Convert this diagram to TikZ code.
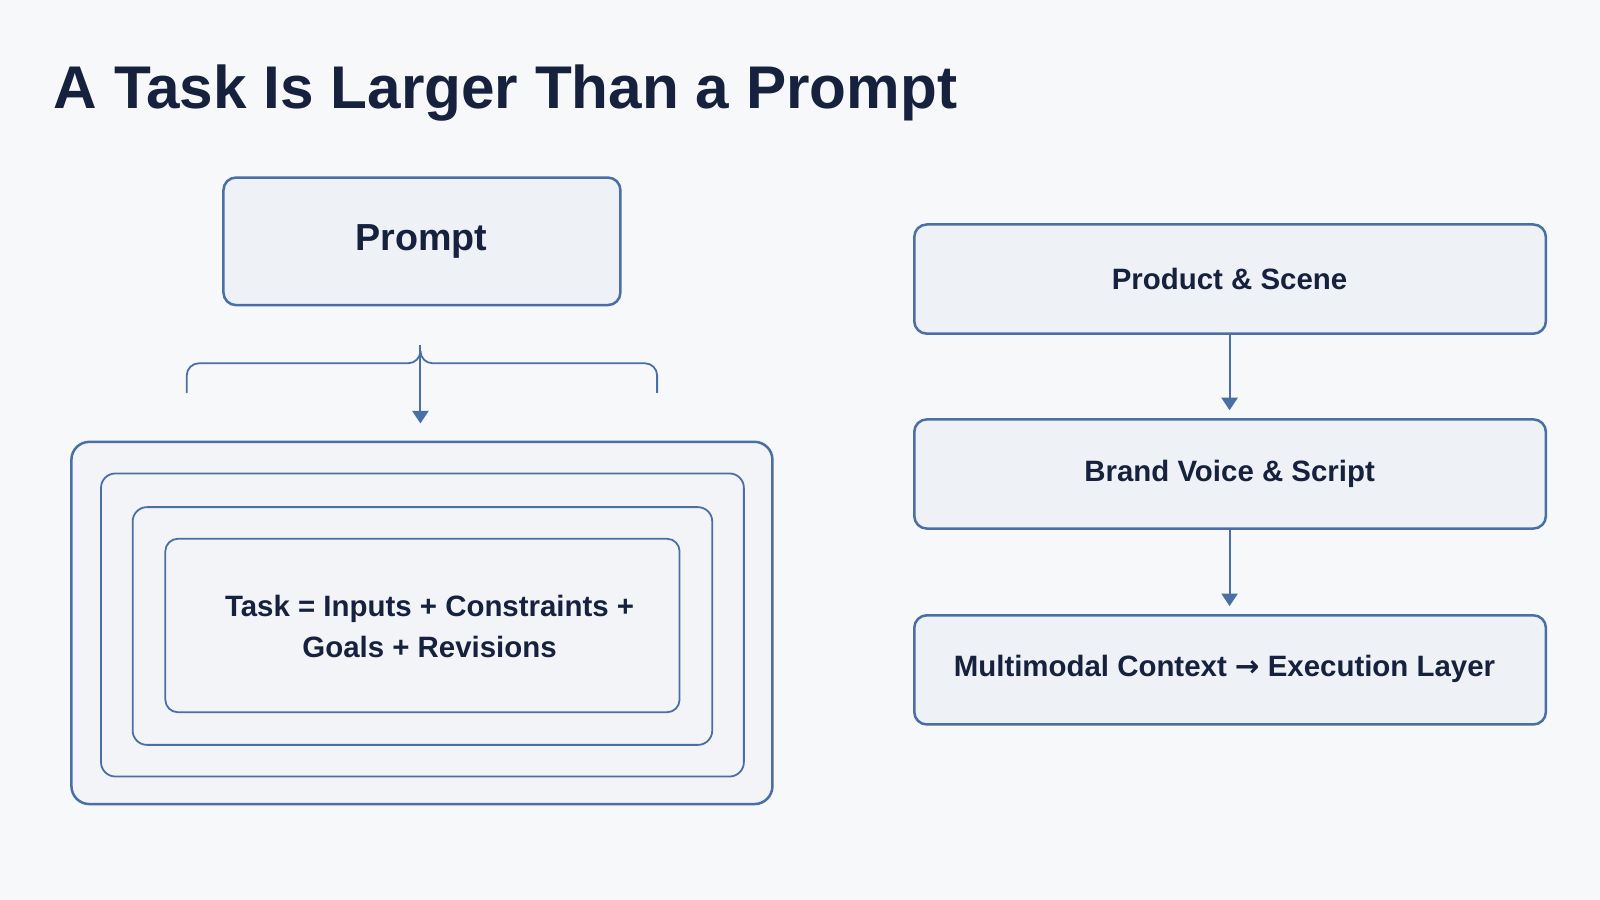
\documentclass[tikz,border=0pt]{standalone}
\usepackage{fontspec}
\setmainfont{Liberation Sans}
\usetikzlibrary{arrows.meta}
\definecolor{bg}{HTML}{F7F8FA}
\definecolor{navy}{HTML}{15213D}
\definecolor{edge}{HTML}{4A6FA5}
\definecolor{boxfill}{HTML}{EEF1F6}
\begin{document}
\begin{tikzpicture}[x=0.01cm,y=-0.01cm,
  box/.style={draw=edge,line width=0.7pt,fill=boxfill,rounded corners=3.5pt},
  ring/.style={draw=edge,line width=0.5pt,rounded corners=4pt},
  txt/.style={text=navy,font=\bfseries\fontsize{8.2}{10.5}\selectfont,align=center},
  arr/.style={draw=edge,line width=0.6pt,-{Triangle[length=3.5pt,width=4.5pt]}}]
\fill[bg] (0,0) rectangle (1568,882);
\useasboundingbox (0,0) rectangle (1568,882);
\node[anchor=base west,inner sep=0pt,text=navy,font=\bfseries\fontsize{16.8}{20}\selectfont] (title) at (52,106) {A Task Is Larger Than a Prompt};
% prompt
\draw[box] (219,174) rectangle (608,299);
\node[txt,font=\bfseries\fontsize{10.5}{13}\selectfont] (prompt) at (413,237) {Prompt};
% bracket
\coordinate (top) at (412,338);
\coordinate (tip) at (412,415);
\draw[edge,line width=0.5pt] (183,385) -- (183,368) arc[start angle=180,end angle=270,radius=12] -- (400,356) arc[start angle=90,end angle=0,radius=12];
\draw[edge,line width=0.5pt] (644,385) -- (644,368) arc[start angle=0,end angle=-90,radius=12] -- (424,356) arc[start angle=90,end angle=180,radius=12];
\draw[arr] (top) -- (tip);
% nested
\draw[ring,fill=boxfill!60!bg,line width=0.7pt,rounded corners=5pt] (70,433) rectangle (757,788);
\draw[ring] (99,464) rectangle (729,761);
\draw[ring] (130,497) rectangle (698,730);
\draw[ring,fill=bg!50!boxfill,rounded corners=3.5pt] (162,528) rectangle (666,698);
\node[txt] (task) at (421,614) {Task = Inputs + Constraints +\\[1pt]Goals + Revisions};
% right
\draw[box] (896,220) rectangle (1515,327);
\node[txt] (a) at (1205,273) {Product \& Scene};
\draw[box] (896,411) rectangle (1515,518);
\node[txt] (b) at (1205,464) {Brand Voice \& Script};
\draw[box] (896,603) rectangle (1515,710);
\node[txt] (c) at (1200,656) {Multimodal Context {\fontspec{DejaVu Sans}→} Execution Layer};
\coordinate (a1) at (1205,327); \coordinate (a2) at (1205,402);
\coordinate (b1) at (1205,518); \coordinate (b2) at (1205,594);
\draw[arr] (a1) -- (a2);
\draw[arr] (b1) -- (b2);
\end{tikzpicture}
\end{document}
